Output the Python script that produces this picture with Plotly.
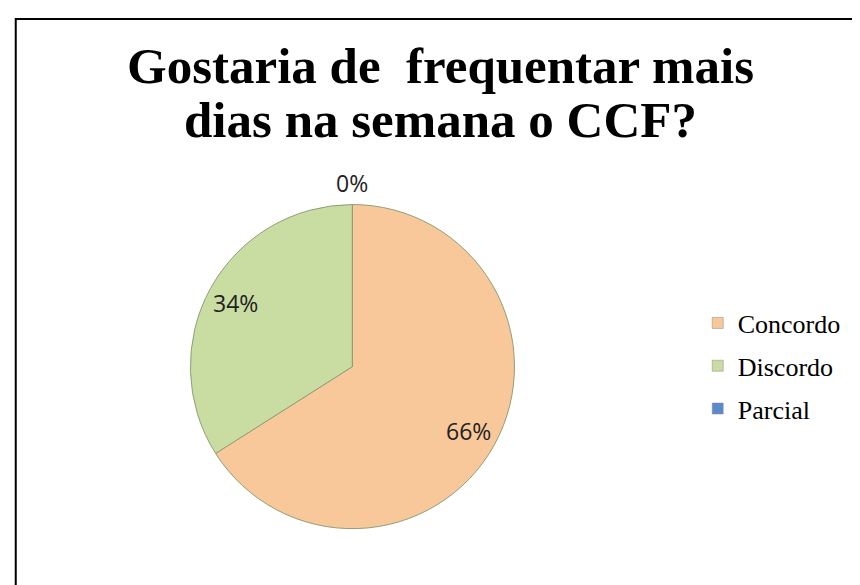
import math
import plotly.graph_objects as go

categories = ["Concordo", "Discordo", "Parcial"]
values = [66, 34, 0]
colors = ["#F9C89A", "#C9DDA3", "#5B8ACB"]
title_lines = ["Gostaria de \u00a0frequentar mais", "dias na semana o CCF?"]

# pie geometry (paper fractions)
px0, px1 = 0.212, 0.589
py0, py1 = 0.110, 0.664
W, H = 860, 585

fig = go.Figure()
fig.add_trace(go.Pie(
    labels=categories,
    values=values,
    sort=False,
    direction="clockwise",
    rotation=0,
    marker=dict(colors=colors, line=dict(color="#8f9f78", width=1)),
    textinfo="none",
    domain=dict(x=[px0, px1], y=[py0, py1]),
    showlegend=False,
    hoverinfo="label+percent",
))

# legend entries (one per category)
for cat, col in zip(categories, colors):
    fig.add_trace(go.Scatter(
        x=[None], y=[None], mode="markers", name=cat,
        legendgroup=cat,
        marker=dict(symbol="square", size=11, color=col,
                    line=dict(color="#888888", width=0.5)),
        showlegend=True,
    ))

# percentage labels placed from data
cx = (px0 + px1) / 2 * W
cy = (1 - (py0 + py1) / 2) * H
r = min((px1 - px0) * W, (py1 - py0) * H) / 2
total = sum(values)
annotations = []
cum = 0
for v in values:
    frac = v / total
    mid = (cum + frac / 2) * 2 * math.pi
    cum += frac
    k = 0.82 if v > 0 else 1.13
    x = cx + k * r * math.sin(mid)
    y = cy - k * r * math.cos(mid)
    annotations.append(dict(
        x=x / W, y=1 - y / H, xref="paper", yref="paper",
        text=f"{round(frac*100)}%", showarrow=False,
        xanchor="center", yanchor="middle",
        font=dict(family="Open Sans, Liberation Sans, sans-serif", size=23, color="#222222"),
    ))

for i, (line, ypix) in enumerate(zip(title_lines, [58, 112])):
    annotations.append(dict(
        x=432 / W, y=1 - ypix / H, xref="paper", yref="paper",
        text="<b>" + line + "</b>", showarrow=False,
        xanchor="center", yanchor="middle",
        font=dict(family="Liberation Serif, Times New Roman, serif", size=51, color="black"),
    ))

fig.update_layout(
    width=W,
    height=H,
    margin=dict(l=0, r=0, t=0, b=0),
    paper_bgcolor="white",
    plot_bgcolor="white",
    xaxis=dict(visible=False),
    yaxis=dict(visible=False),
    annotations=annotations,
    legend=dict(
        x=0.802, y=0.388, xanchor="left", yanchor="middle",
        font=dict(family="Liberation Serif, Times New Roman, serif", size=26, color="black"),
        tracegroupgap=6,
        itemwidth=30,
    ),
    shapes=[dict(
        type="rect", xref="paper", yref="paper",
        x0=0.009, y0=-0.05, x1=1.05, y1=0.981,
        line=dict(color="black", width=2),
    )],
)

fig.write_html("out.html")
